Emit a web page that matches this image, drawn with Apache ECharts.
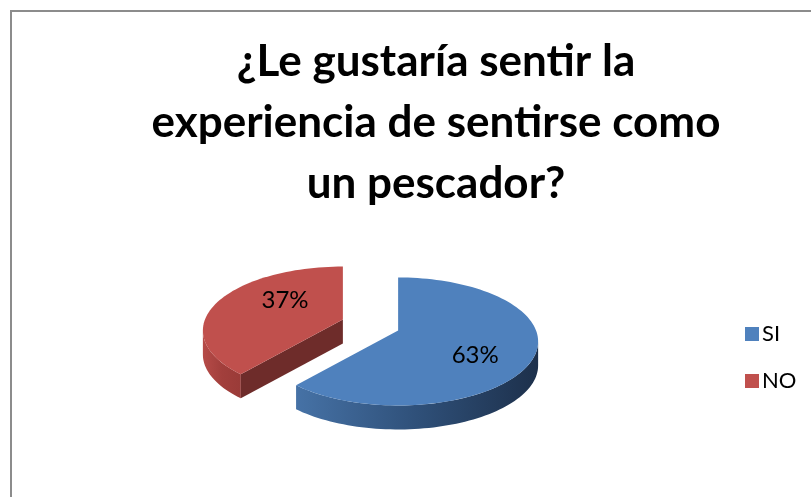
<!DOCTYPE html>
<html>
<head>
<meta charset="utf-8">
<script src="https://cdn.jsdelivr.net/npm/echarts@6/dist/echarts.min.js"></script>
<style>
html, body { margin: 0; padding: 0; background: #fff; }
#chart { width: 811px; height: 497px; }
</style>
</head>
<body>
<div id="chart"></div>
<script>
// data
const categories = ['SI', 'NO']
const values = [63, 37]
const titleLines = ['¿Le gustaría sentir la', 'experiencia de sentirse como', 'un pescador?']

// look
const palette = {
  SI: { top: '#4f81bd', side: ['#4672a6', '#2f5079', '#1d304b'], cut: '#1f3453' },
  NO: { top: '#c0504d', side: ['#b64b48', '#a23f3c', '#9a3b38'], cut: '#6e2c2a' }
}
const pie = { cx: 370.5, cy: 336, rx: 140, ry: 64, depth: 24, lift: 11, explode: 0.215 }
const labelStyle = {
  SI: { f: 0.6, dy: 3 },
  NO: { f: 0.45, dy: -13 }
}

const total = values.reduce((a, b) => a + b, 0)
const rad = d => d * Math.PI / 180

// slice angles: start at 12 o'clock, go clockwise
const slices = []
let acc = 90
values.forEach((v, i) => {
  const sweep = v / total * 360
  let a = acc - sweep
  let b = acc
  acc = a
  while (a < 0) { a += 360; b += 360 }
  slices.push({ a, b })
})

function renderSlice(idx) {
  return function (params, api) {
    const name = categories[idx]
    const col = palette[name]
    const { a, b } = slices[idx]
    const mid = (a + b) / 2
    const cx = pie.cx + pie.explode * pie.rx * Math.cos(rad(mid))
    const cy = pie.cy - pie.explode * pie.ry * Math.sin(rad(mid))
    const apex = [cx, cy - pie.lift]
    const rim = (t, dz) => [cx + pie.rx * Math.cos(rad(t)), cy - pie.ry * Math.sin(rad(t)) + (dz || 0)]
    const arc = (t0, t1, dz) => {
      const pts = []
      const n = Math.max(2, Math.ceil((t1 - t0) / 2))
      for (let k = 0; k <= n; k++) pts.push(rim(t0 + (t1 - t0) * k / n, dz))
      return pts
    }
    const children = []

    // outer wall, front part only
    ;[[180, 360], [540, 720]].forEach(([f0, f1]) => {
      const t0 = Math.max(a, f0)
      const t1 = Math.min(b, f1)
      if (t1 <= t0) return
      const topArc = arc(t0, t1, 0)
      const botArc = arc(t0, t1, pie.depth).reverse()
      const x0 = rim(t0)[0]
      const x1 = rim(t1)[0]
      children.push({
        type: 'polygon',
        shape: { points: topArc.concat(botArc) },
        style: {
          fill: new echarts.graphic.LinearGradient(Math.min(x0, x1), 0, Math.max(x0, x1), 0, [
            { offset: 0, color: col.side[0] },
            { offset: 0.5, color: col.side[1] },
            { offset: 1, color: col.side[2] }
          ], true)
        }
      })
    })

    // radial cut walls facing the viewer
    ;[[a, a - 90], [b, b + 90]].forEach(([t, n]) => {
      if (Math.sin(rad(n)) > -0.05) return
      const r = rim(t)
      children.push({
        type: 'polygon',
        shape: { points: [apex, r, [r[0], r[1] + pie.depth], [apex[0], apex[1] + pie.depth]] },
        style: { fill: col.cut }
      })
    })

    // top face
    children.push({
      type: 'polygon',
      shape: { points: [apex].concat(arc(a, b, 0)) },
      style: { fill: col.top }
    })

    // percentage label
    const ls = labelStyle[name]
    const rm = rim(mid)
    const pct = Math.round(api.value(0) / total * 100)
    children.push({
      type: 'text',
      x: apex[0] + ls.f * (rm[0] - apex[0]),
      y: apex[1] + ls.f * (rm[1] - apex[1]) + ls.dy,
      style: {
        text: pct + '%',
        fill: '#000',
        font: '24px Lato',
        align: 'center',
        verticalAlign: 'middle'
      }
    })

    return { type: 'group', children }
  }
}

const chart = echarts.init(document.getElementById('chart'))
chart.setOption({
  animation: false,
  title: {
    text: titleLines.join('\n'),
    left: 431,
    top: 26,
    textAlign: 'center',
    textStyle: {
      fontFamily: 'Lato',
      fontWeight: 'bold',
      fontSize: 44,
      lineHeight: 61,
      color: '#000'
    }
  },
  legend: {
    orient: 'vertical',
    left: 740,
    top: 318,
    icon: 'rect',
    itemWidth: 14,
    itemHeight: 14,
    itemGap: 25,
    data: categories,
    textStyle: { fontFamily: 'Lato', fontSize: 22, color: '#000', lineHeight: 22, padding: [0, 0, 0, -2] }
  },
  graphic: [{
    type: 'rect',
    shape: { x: 11, y: 11, width: 900, height: 600 },
    style: { fill: 'none', stroke: '#8c8c8c', lineWidth: 2 },
    silent: true
  }],
  series: categories.map((name, i) => ({
    name,
    type: 'custom',
    coordinateSystem: 'none',
    z: i === 0 ? 3 : 2,
    itemStyle: { color: palette[name].top },
    data: [values[i]],
    renderItem: renderSlice(i)
  }))
})
</script>
</body>
</html>
